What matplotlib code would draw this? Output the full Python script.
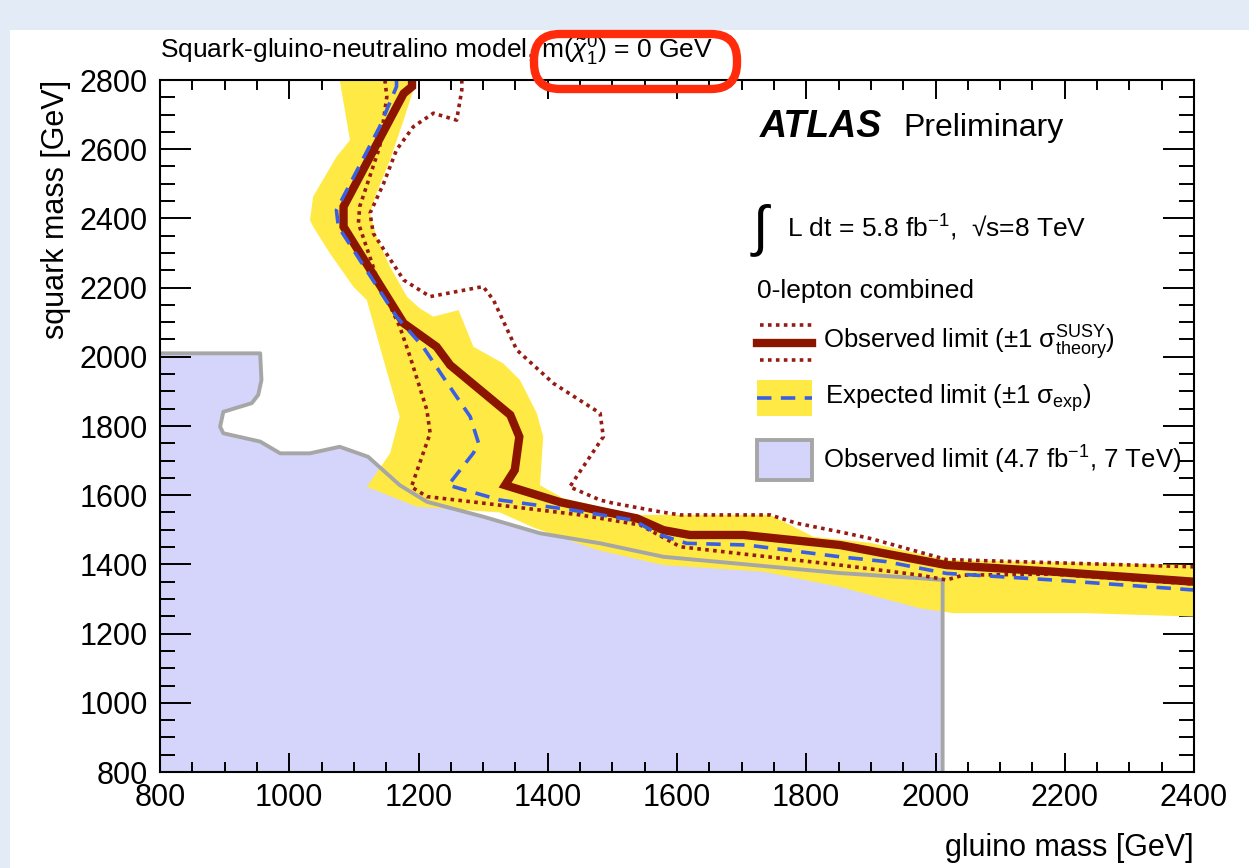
import matplotlib
matplotlib.use("Agg")
import matplotlib.pyplot as plt
from matplotlib.patches import Rectangle, FancyBboxPatch
from matplotlib.ticker import MultipleLocator

plt.rcParams['font.family'] = ['Liberation Sans', 'DejaVu Sans']
plt.rcParams['mathtext.fontset'] = 'custom'
plt.rcParams['mathtext.rm'] = 'Liberation Sans'
plt.rcParams['mathtext.it'] = 'Liberation Sans:italic'
plt.rcParams['mathtext.bf'] = 'Liberation Sans:bold'

# observed limit, 5.8 fb-1 @ 8 TeV (gluino, squark) in GeV
obs_gluino = [1190, 1190, 1177, 1084, 1084, 1177, 1228, 1249, 1342, 1356, 1349, 1334,
              1419, 1481, 1538, 1579, 1620, 1703, 1852, 2017, 2182, 2400]
obs_squark = [2800, 2781, 2761, 2434, 2376, 2097, 2029, 1976, 1832, 1769, 1673, 1629,
              1580, 1555, 1533, 1499, 1485, 1485, 1456, 1398, 1379, 1350]

# observed +1 sigma theory
up_gluino = [1267, 1267, 1259, 1223, 1192, 1166, 1146, 1125, 1130, 1177, 1218, 1300, 1316,
             1352, 1409, 1481, 1486, 1434, 1481, 1501, 1574, 1605, 1744, 1785, 1852, 1899,
             2017, 2400]
up_squark = [2800, 2771, 2684, 2704, 2665, 2598, 2501, 2415, 2357, 2222, 2174, 2203, 2164,
             2020, 1923, 1837, 1769, 1624, 1586, 1577, 1552, 1543, 1543, 1519, 1494, 1475,
             1414, 1393]

# observed -1 sigma theory
dn_gluino = [1148, 1151, 1140, 1109, 1107, 1135, 1171, 1187, 1213, 1218, 1189, 1213, 1300,
             1450, 1543, 1605, 1852, 1976, 2017, 2043, 2182, 2400]
dn_squark = [2800, 2752, 2607, 2434, 2386, 2232, 2087, 2000, 1846, 1779, 1624, 1596, 1577,
             1543, 1514, 1451, 1398, 1369, 1355, 1369, 1372, 1343]

# expected limit
exp_gluino = [1166, 1166, 1140, 1073, 1076, 1166, 1207, 1238, 1280, 1293, 1285, 1246, 1326,
              1434, 1532, 1574, 1615, 1708, 1852, 1924, 2017, 2182, 2400]
exp_squark = [2800, 2781, 2665, 2424, 2376, 2116, 2029, 1942, 1827, 1750, 1722, 1629, 1586,
              1558, 1528, 1485, 1461, 1456, 1422, 1408, 1374, 1355, 1326]

# expected +-1 sigma band outline
band_gluino = [1078, 1094, 1073, 1037, 1032, 1037, 1063, 1099, 1120, 1146, 1171, 1156, 1120,
               1197, 1326, 1380, 1476, 1579, 1733, 1852, 1976, 2028, 2234, 2400,
               2400, 2017, 1900, 1811, 1744, 1538, 1424, 1388, 1393, 1383, 1357, 1331, 1285,
               1262, 1223, 1202, 1182, 1156, 1135, 1125, 1135, 1156, 1177, 1197]
band_squark = [2800, 2626, 2578, 2463, 2395, 2376, 2299, 2203, 2164, 1991, 1827, 1721, 1624,
               1567, 1550, 1505, 1442, 1398, 1379, 1335, 1273, 1259, 1259, 1249,
               1398, 1413, 1462, 1480, 1543, 1543, 1591, 1629, 1769, 1837, 1933, 1981, 2029,
               2135, 2116, 2140, 2174, 2260, 2347, 2415, 2473, 2569, 2684, 2800]

# previous result, 4.7 fb-1 @ 7 TeV
lim7_gluino = [800, 955, 957, 952, 942, 898, 893, 898, 955, 986, 1032, 1078, 1122, 1171,
               1213, 1300, 1388, 1481, 1579, 1852, 1976, 2011, 2011]
lim7_squark = [2010, 2010, 1933, 1890, 1866, 1841, 1798, 1779, 1755, 1721, 1721, 1740, 1711,
               1629, 1581, 1538, 1490, 1461, 1422, 1375, 1360, 1355, 800]

c_obs = '#8C1500'
c_dot = '#941C14'
c_exp = '#3A5FE5'
c_band = '#FFE945'
c_7tev = '#D5D5FB'
c_grey = '#A6A6A6'

fig = plt.figure(figsize=(12.49, 8.68), dpi=100, facecolor='#E3EBF6')
fig.patches.append(Rectangle((10 / 1249, 0), 1, 1 - 30 / 868, transform=fig.transFigure,
                             facecolor='white', edgecolor='none', zorder=-10))

ax = fig.add_axes([160 / 1249, 1 - 772 / 868, 1034 / 1249, 692 / 868])

ax.fill(lim7_gluino + [800], lim7_squark + [800], color=c_7tev, lw=0, zorder=1)
ax.fill(band_gluino, band_squark, color=c_band, lw=0, zorder=2)
ax.plot(lim7_gluino, lim7_squark, color=c_grey, lw=2.8, zorder=3)
ax.plot(up_gluino, up_squark, color=c_dot, lw=2.6, ls=(0, (1, 1.2)), zorder=4)
ax.plot(dn_gluino, dn_squark, color=c_dot, lw=2.6, ls=(0, (1, 1.2)), zorder=4)
ax.plot(obs_gluino, obs_squark, color=c_obs, lw=6, zorder=5, solid_joinstyle='miter')
ax.plot(exp_gluino, exp_squark, color=c_exp, lw=2.6, ls=(0, (4, 2.6)), zorder=6)

ax.set_xlim(800, 2400)
ax.set_ylim(800, 2800)
ax.xaxis.set_major_locator(MultipleLocator(200))
ax.xaxis.set_minor_locator(MultipleLocator(50))
ax.yaxis.set_major_locator(MultipleLocator(200))
ax.yaxis.set_minor_locator(MultipleLocator(50))
ax.tick_params(which='both', direction='in', top=True, right=True, width=1.4,
               labelsize=22, zorder=10)
ax.tick_params(axis='x', which='major', length=14, pad=8)
ax.tick_params(axis='x', which='minor', length=7)
ax.tick_params(axis='y', which='major', length=22, pad=9)
ax.tick_params(axis='y', which='minor', length=11)
for sp in ax.spines.values():
    sp.set_linewidth(1.5)
    sp.set_zorder(10)

ax.set_xlabel('gluino mass [GeV]', fontsize=22, loc='right', labelpad=14)
ax.set_ylabel('squark mass [GeV]', fontsize=22, loc='top', labelpad=6)

fig.text(160 / 1249, 1 - 51 / 868,
         r'Squark-gluino-neutralino model, m($\tilde{\chi}^{0}_{1}$) = 0 GeV',
         fontsize=19, ha='left', va='center')

# labels inside the frame
ax.text(0.580, 0.932, 'ATLAS', transform=ax.transAxes, fontsize=27,
        fontweight='bold', fontstyle='italic', va='center', ha='left', zorder=12)
ax.text(0.7186, 0.930, 'Preliminary', transform=ax.transAxes, fontsize=23,
        va='center', ha='left', zorder=12)
ax.text(0.581, 0.783, '∫', transform=ax.transAxes, fontsize=40, va='center',
        ha='center', zorder=12)
ax.text(0.606, 0.786, r'L dt = 5.8 fb$^{-1}$,  √s=8 TeV', transform=ax.transAxes,
        fontsize=19, va='center', ha='left', zorder=12)
ax.text(0.577, 0.695, '0-lepton combined', transform=ax.transAxes, fontsize=19,
        va='center', ha='left', zorder=12)

# legend entries
lx0, lx1 = 0.5774, 0.6306
ax.plot([lx0 + 0.003, lx1], [0.646, 0.646], transform=ax.transAxes, color=c_dot, lw=2.6,
        ls=(0, (1, 1.2)), zorder=12)
ax.plot([lx0, lx1], [0.620, 0.620], transform=ax.transAxes, color=c_obs, lw=6, zorder=12)
ax.plot([lx0 + 0.003, lx1], [0.595, 0.595], transform=ax.transAxes, color=c_dot, lw=2.6,
        ls=(0, (1, 1.2)), zorder=12)
ax.text(0.641, 0.620, r'Observed limit ($\pm$1 $\mathrm{\sigma}^{\mathrm{SUSY}}_{\mathrm{theory}}$)',
        transform=ax.transAxes, fontsize=18.5, va='center', ha='left', zorder=12)

ax.add_patch(Rectangle((lx0, 0.514), lx1 - lx0, 0.052, transform=ax.transAxes,
                       facecolor=c_band, edgecolor='none', zorder=11))
ax.plot([lx0, lx1], [0.540, 0.540], transform=ax.transAxes, color=c_exp, lw=2.6,
        ls=(0, (4, 2.6)), zorder=12)
ax.text(0.643, 0.540, r'Expected limit ($\pm$1 $\mathrm{\sigma}_{\mathrm{exp}}$)',
        transform=ax.transAxes, fontsize=18.5, va='center', ha='left', zorder=12)

ax.add_patch(Rectangle((lx0, 0.422), lx1 - lx0, 0.058, transform=ax.transAxes,
                       facecolor=c_7tev, edgecolor=c_grey, lw=2.8, zorder=11))
ax.text(0.641, 0.451, r'Observed limit (4.7 fb$^{-1}$, 7 TeV)',
        transform=ax.transAxes, fontsize=18.5, va='center', ha='left', zorder=12)

# red highlight ring around the neutralino mass
fig.patches.append(FancyBboxPatch((5.34, 7.79), 2.03, 0.55,
                                  boxstyle='round,pad=0,rounding_size=0.26',
                                  transform=fig.dpi_scale_trans, facecolor='none',
                                  edgecolor='#FF2B0A', lw=6, zorder=20))

fig.savefig('out.png', dpi=100, facecolor=fig.get_facecolor())
